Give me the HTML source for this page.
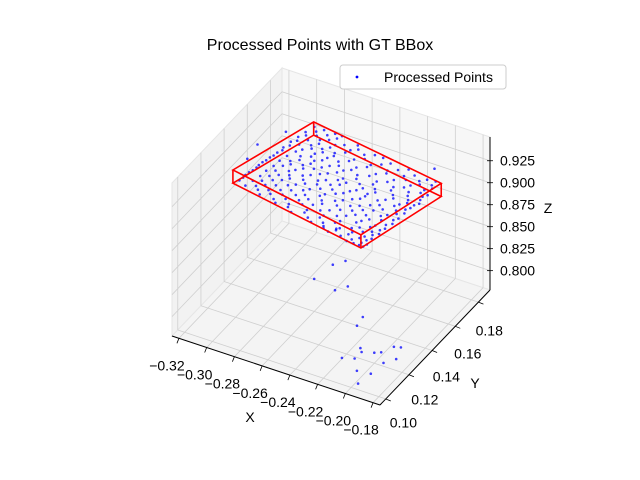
<!DOCTYPE html>
<html><head><meta charset="utf-8"><style>
body{margin:0;background:#fff;}
svg{display:block;font-family:"Liberation Sans","DejaVu Sans",sans-serif;}
</style></head><body>
<svg id="chart" width="640" height="480" viewBox="0 0 640 480">
<text x="320" y="50" text-anchor="middle" font-size="16">Processed Points with GT BBox</text>
<g id="panes"></g>
<g id="grid"></g>
<g id="axes"></g>
<g id="pts"></g>
<g id="bboxg"></g>
<text x="250" y="422" text-anchor="middle" font-size="14">X</text>
<text x="475" y="388" text-anchor="middle" font-size="14">Y</text>
<text x="548" y="213" text-anchor="middle" font-size="14">Z</text>
<g>
<rect x="340" y="65" width="166" height="24" rx="3" fill="#fff" stroke="#ccc"/>
<circle cx="357" cy="77" r="1.4" fill="#0000ff"/>
<text x="384" y="82" font-size="14">Processed Points</text>
</g>
</svg>
<script>
const xTicks=[-0.32,-0.30,-0.28,-0.26,-0.24,-0.22,-0.20,-0.18];
const yTicks=[0.10,0.12,0.14,0.16,0.18];
const zTicks=[0.800,0.825,0.850,0.875,0.900,0.925];
const rowY=[0.194,0.190,0.186,0.182,0.178,0.174,0.170,0.166,0.162,0.158,0.154,0.150,0.146,0.142,0.138];
const rowZ=[0.890,0.888,0.887,0.886,0.884,0.883,0.882,0.881,0.880,0.879,0.878,0.877,0.876,0.875,0.874];
const rowX=[
[-0.305,-0.298,-0.290,-0.285],
[-0.308,-0.300,-0.291,-0.280,-0.270,-0.258,-0.252],
[-0.310,-0.303,-0.295,-0.287,-0.276,-0.262,-0.250,-0.238,-0.226,-0.217],
[-0.312,-0.306,-0.297,-0.289,-0.281,-0.270,-0.257,-0.243,-0.229,-0.219,-0.210],
[-0.314,-0.305,-0.294,-0.286,-0.274,-0.265,-0.252,-0.239,-0.227,-0.215,-0.210],
[-0.315,-0.308,-0.299,-0.291,-0.283,-0.272,-0.258,-0.246,-0.233,-0.221,-0.212],
[-0.317,-0.310,-0.302,-0.293,-0.281,-0.268,-0.262,-0.250,-0.241,-0.228,-0.218,-0.213],
[-0.319,-0.311,-0.300,-0.290,-0.279,-0.270,-0.256,-0.245,-0.236,-0.224,-0.216],
[-0.320,-0.313,-0.304,-0.296,-0.285,-0.274,-0.263,-0.251,-0.238,-0.229,-0.219],
[-0.322,-0.314,-0.305,-0.294,-0.283,-0.271,-0.260,-0.249,-0.240,-0.227,-0.218],
[-0.323,-0.316,-0.307,-0.296,-0.285,-0.276,-0.266,-0.253,-0.242,-0.232,-0.220],
[-0.318,-0.309,-0.300,-0.289,-0.277,-0.264,-0.252,-0.238,-0.228,-0.221],
[-0.293,-0.284,-0.272,-0.261,-0.250,-0.238,-0.230,-0.223],
[-0.264,-0.255,-0.246,-0.237,-0.229,-0.224],
[-0.235,-0.230,-0.226,-0.223]];
const row2Y=[0.192,0.188,0.184,0.180,0.176,0.172,0.168,0.164,0.160,0.156,0.152,0.148,0.144,0.140];
const row2Z=[0.889,0.888,0.886,0.885,0.884,0.882,0.881,0.880,0.879,0.878,0.877,0.876,0.875,0.874];
const row2X=[
[-0.302,-0.294,-0.287,-0.272],
[-0.306,-0.296,-0.285,-0.274,-0.264,-0.245,-0.232],
[-0.309,-0.299,-0.291,-0.282,-0.268,-0.256,-0.244,-0.232,-0.221,-0.212],
[-0.311,-0.302,-0.293,-0.284,-0.276,-0.263,-0.249,-0.236,-0.224,-0.214],
[-0.313,-0.300,-0.290,-0.279,-0.269,-0.259,-0.245,-0.233,-0.222,-0.212],
[-0.316,-0.304,-0.295,-0.287,-0.277,-0.266,-0.254,-0.243,-0.230,-0.219,-0.211],
[-0.318,-0.306,-0.297,-0.286,-0.275,-0.265,-0.253,-0.245,-0.232,-0.222,-0.214],
[-0.320,-0.308,-0.298,-0.288,-0.278,-0.267,-0.259,-0.247,-0.233,-0.221,-0.215],
[-0.321,-0.309,-0.300,-0.290,-0.280,-0.269,-0.256,-0.244,-0.234,-0.224,-0.216],
[-0.323,-0.311,-0.301,-0.290,-0.280,-0.268,-0.257,-0.246,-0.236,-0.225,-0.217],
[-0.324,-0.312,-0.303,-0.293,-0.281,-0.271,-0.259,-0.247,-0.236,-0.226,-0.219],
[-0.306,-0.296,-0.285,-0.272,-0.260,-0.248,-0.234,-0.225,-0.220],
[-0.280,-0.268,-0.257,-0.245,-0.236,-0.227,-0.222],
[-0.250,-0.241,-0.233,-0.226,-0.222]];
const outX=[-0.27,-0.265,-0.255,-0.25,-0.26,-0.245,-0.24,-0.225,-0.225,-0.21,-0.21,-0.20,-0.195,-0.19,-0.185,-0.20,-0.195,-0.19,-0.185,-0.215,-0.205,-0.18,-0.325,-0.326,-0.318,-0.215,-0.21];
const outY=[0.16,0.165,0.15,0.155,0.14,0.14,0.145,0.14,0.135,0.12,0.115,0.12,0.12,0.125,0.125,0.105,0.10,0.105,0.11,0.11,0.115,0.115,0.16,0.17,0.185,0.19,0.185];
const outZ=[0.84,0.835,0.82,0.82,0.815,0.81,0.81,0.79,0.787,0.79,0.785,0.79,0.793,0.795,0.797,0.79,0.785,0.792,0.80,0.79,0.795,0.80,0.89,0.892,0.89,0.895,0.89];
const boxX=[-0.327,-0.308,-0.206,-0.223];
const boxY=[0.150,0.197,0.185,0.136];
const boxZ=[0.875,0.890];

const X0=-0.325,X1=-0.175,Y0=0.095,Y1=0.19,Z0=0.778,Z1=0.952;
function P(x,y,z){const a=(x-X0)/(X1-X0),b=(y-Y0)/(Y1-Y0),c=(z-Z0)/(Z1-Z0);
return [172+208*a+110*b,336+69*a-115*b-153*c];}
const NS='http://www.w3.org/2000/svg';
function mk(t,at,parent){const e=document.createElementNS(NS,t);for(const k in at)e.setAttribute(k,at[k]);parent.appendChild(e);return e;}
function poly(pp){return pp.map(p=>p[0].toFixed(1)+','+p[1].toFixed(1)).join(' ');}
const panesG=document.getElementById('panes'),gridG=document.getElementById('grid'),axesG=document.getElementById('axes'),ptsG=document.getElementById('pts'),boxG=document.getElementById('bboxg');
let e;
e=mk('polygon',{points:poly([P(X0,Y0,Z0),P(X0,Y1,Z0),P(X0,Y1,Z1),P(X0,Y0,Z1)]),fill:'#f2f2f2',stroke:'#e6e6e6'},panesG);


e=mk('polygon',{points:poly([P(X0,Y1,Z0),P(X1,Y1,Z0),P(X1,Y1,Z1),P(X0,Y1,Z1)]),fill:'#f7f7f7',stroke:'#e6e6e6'},panesG);


e=mk('polygon',{points:poly([P(X0,Y0,Z0),P(X1,Y0,Z0),P(X1,Y1,Z0),P(X0,Y1,Z0)]),fill:'#f4f4f4',stroke:'#e6e6e6'},panesG);


function ln(a,b,parent,col,w){return mk('line',{x1:a[0],y1:a[1],x2:b[0],y2:b[1],stroke:col,'stroke-width':w},parent);}
xTicks.forEach(t=>{
 e=ln(P(t,Y0,Z0),P(t,Y1,Z0),gridG,'#cfcfcf',0.8);
 
 
 e=ln(P(t,Y1,Z0),P(t,Y1,Z1),gridG,'#cfcfcf',0.8);
 
 
 const p=P(t,Y0,Z0);
 e=ln(p,[p[0]-2,p[1]+5],axesG,'#000',0.8);
 
 
 e=mk('text',{x:p[0]-12,y:p[1]+32,'text-anchor':'middle','font-size':'14'},axesG);
 e.textContent=(t<0?'\u2212':'')+Math.abs(t).toFixed(2);
 
 
});
yTicks.forEach(t=>{
 e=ln(P(X0,t,Z0),P(X1,t,Z0),gridG,'#cfcfcf',0.8);
 
 
 e=ln(P(X0,t,Z0),P(X0,t,Z1),gridG,'#cfcfcf',0.8);
 
 
 const p=P(X1,t,Z0),b=(t-Y0)/(Y1-Y0);
 e=ln(p,[p[0]+5,p[1]+2],axesG,'#000',0.8);
 
 
 e=mk('text',{x:p[0]+18-8*b,y:p[1]+28+6*b,'text-anchor':'middle','font-size':'14'},axesG);
 e.textContent=t.toFixed(2);
 
 
});
zTicks.forEach(t=>{
 e=ln(P(X0,Y0,t),P(X0,Y1,t),gridG,'#cfcfcf',0.8);
 
 
 e=ln(P(X0,Y1,t),P(X1,Y1,t),gridG,'#cfcfcf',0.8);
 
 
 const p=P(X1,Y1,t);
 e=ln([p[0]-3,p[1]],[p[0]+3,p[1]],axesG,'#000',0.8);
 
 
 e=mk('text',{x:p[0]+10,y:p[1]+5,'font-size':'14'},axesG);
 e.textContent=t.toFixed(3);
 
 
});
e=ln(P(X0,Y0,Z0),P(X1,Y0,Z0),axesG,'#000',1);


e=ln(P(X1,Y0,Z0),P(X1,Y1,Z0),axesG,'#000',1);


e=ln(P(X1,Y1,Z0),P(X1,Y1,Z1),axesG,'#000',1);


function dot(x,y,z){const p=P(x,y,z);
 const c=mk('circle',{cx:p[0].toFixed(1),cy:p[1].toFixed(1),r:1.3,fill:'#0000ff','fill-opacity':0.75},ptsG);
 
 }
rowX.forEach((row,i)=>row.forEach(x=>dot(x,rowY[i],rowZ[i])));
row2X.forEach((row,i)=>row.forEach(x=>dot(x,row2Y[i],row2Z[i])));
outX.forEach((x,i)=>dot(x,outY[i],outZ[i]));
const boxTop=boxX.map((x,i)=>P(x,boxY[i],boxZ[1])),boxBot=boxX.map((x,i)=>P(x,boxY[i],boxZ[0]));
e=mk('polygon',{points:poly(boxTop),fill:'none',stroke:'#ff0000','stroke-width':1.6},boxG);


e=mk('polygon',{points:poly(boxBot),fill:'none',stroke:'#ff0000','stroke-width':1.6},boxG);


boxTop.forEach((p,i)=>{e=ln(p,boxBot[i],boxG,'#ff0000',1.6);
 
 });
</script>
</body></html>
